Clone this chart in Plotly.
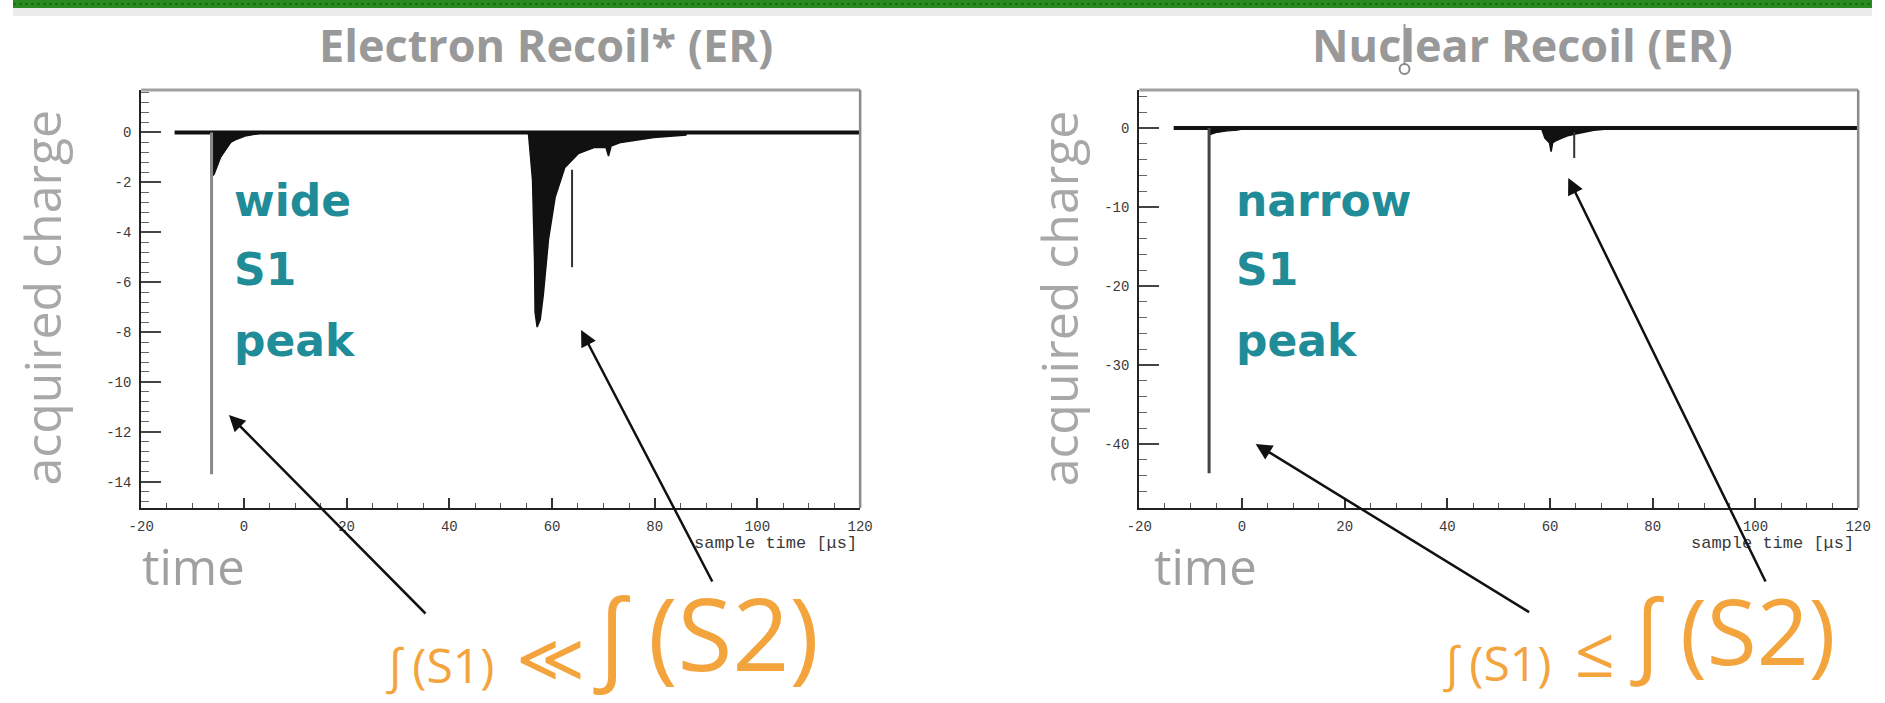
import plotly.graph_objects as go

W, H = 1885, 703

# ---------------- data ----------------
x_ticks = [-20, 0, 20, 40, 60, 80, 100, 120]
x_ticktext = ["-20", "0", "20", "40", "60", "80", "100", "120"]

er_y_ticks = [0, -2, -4, -6, -8, -10, -12, -14]
er_y_ticktext = ["0", "-2", "-4", "-6", "-8", "-10", "-12", "-14"]
nr_y_ticks = [0, -10, -20, -30, -40]
nr_y_ticktext = ["0", "-10", "-20", "-30", "-40"]

# Electron recoil waveform
er_base_t = [-13.5, 120]
er_base_q = [0, 0]
er_s1_t = [-6.3, -6.3]
er_s1_q = [0, -13.7]
er_s1tail_t = [-6.5, -6.4, -5.8, -5.4, -4.9, -4.5, -3.5, -2.5, -1.6, 0.3, 3.0]
er_s1tail_q = [0, -1.8, -1.7, -1.5, -1.2, -1.0, -0.7, -0.4, -0.3, -0.15, -0.05]
er_s2_t = [55.4, 56.2, 56.6, 56.7, 57.1, 57.7, 58.3, 59.3, 60.6, 62.5, 65.1, 68.3, 70.5, 71.0, 71.5, 73.4, 79.8, 86.2]
er_s2_q = [0, -1.9, -5.2, -7.2, -7.8, -7.5, -6.5, -4.3, -2.6, -1.4, -0.85, -0.6, -0.6, -0.95, -0.55, -0.4, -0.2, -0.1]
er_spike_t = [63.9, 63.9]
er_spike_q = [-1.5, -5.4]

# Nuclear recoil waveform
nr_base_t = [-13.3, 120]
nr_base_q = [0, 0]
nr_s1_t = [-6.4, -6.4]
nr_s1_q = [0, -43.7]
nr_s1tail_t = [-6.4, -5.0, -3.0, -1.0, 1.5]
nr_s1tail_q = [-0.9, -0.6, -0.4, -0.3, 0]
nr_s2_t = [58.3, 59.0, 59.9, 60.2, 60.5, 60.9, 62.2, 63.4, 65.4, 68.5, 71.7]
nr_s2_q = [0, -1.3, -1.9, -3.0, -1.9, -1.7, -1.3, -1.0, -0.7, -0.3, -0.1]
nr_spike_t = [64.7, 64.7]
nr_spike_q = [-0.5, -3.8]

er_y_range = [-15.05, 1.7]
nr_y_range = [-48.1, 4.8]
x_range = [-20, 120]


def px(x):
    return x / W


def py(y):
    return 1 - y / H


fig = go.Figure()

BLACK = "#111111"


def add_wave(xa, ya, base_t, base_q, s1_t, s1_q, s1_col, tail_t, tail_q, s2_t, s2_q, sp_t, sp_q):
    fig.add_trace(go.Scatter(x=tail_t, y=tail_q, xaxis=xa, yaxis=ya, mode="lines",
                             line=dict(color=BLACK, width=1), fill="tozeroy", fillcolor=BLACK))
    fig.add_trace(go.Scatter(x=s2_t, y=s2_q, xaxis=xa, yaxis=ya, mode="lines",
                             line=dict(color=BLACK, width=1.5), fill="tozeroy", fillcolor=BLACK))
    fig.add_trace(go.Scatter(x=sp_t, y=sp_q, xaxis=xa, yaxis=ya, mode="lines",
                             line=dict(color="#333333", width=2)))
    fig.add_trace(go.Scatter(x=base_t, y=base_q, xaxis=xa, yaxis=ya, mode="lines",
                             line=dict(color=BLACK, width=4)))
    fig.add_trace(go.Scatter(x=s1_t, y=s1_q, xaxis=xa, yaxis=ya, mode="lines",
                             line=dict(color=s1_col, width=3)))


add_wave("x", "y", er_base_t, er_base_q, er_s1_t, er_s1_q, "#8a8a8a",
         er_s1tail_t, er_s1tail_q, er_s2_t, er_s2_q, er_spike_t, er_spike_q)
add_wave("x2", "y2", nr_base_t, nr_base_q, nr_s1_t, nr_s1_q, "#444444",
         nr_s1tail_t, nr_s1tail_q, nr_s2_t, nr_s2_q, nr_spike_t, nr_spike_q)

tickfont = dict(family="Liberation Mono", size=14, color="#3a3a3a")

xdom1 = [px(130), px(859)]
xdom2 = [px(1142), px(1871)]
ydom = [py(508), py(90)]


def xaxis(dom, anchor):
    return dict(domain=dom, anchor=anchor, range=x_range, tickvals=x_ticks, ticktext=x_ticktext,
                ticks="inside", ticklen=10, tickwidth=1.5, tickcolor="#333",
                minor=dict(dtick=5, tick0=0, ticks="inside", ticklen=5, tickcolor="#555", tickwidth=1),
                showline=True, linecolor="#222", linewidth=2, showgrid=False, zeroline=False,
                tickfont=tickfont, ticklabelstandoff=4, fixedrange=True)


def yaxis(dom, anchor, rng, tv, tt, mdt):
    return dict(domain=dom, anchor=anchor, range=rng, tickvals=tv, ticktext=tt,
                ticks="inside", ticklen=20, tickwidth=1.5, tickcolor="#444",
                minor=dict(dtick=mdt, tick0=0, ticks="inside", ticklen=8, tickcolor="#666", tickwidth=1),
                showline=True, linecolor="#222", linewidth=2, showgrid=False, zeroline=False,
                tickfont=tickfont, ticklabelstandoff=5, fixedrange=True)


ann = []
GRAY_T = "#999999"
# titles
ann.append(dict(text="Electron Recoil* (ER)", x=px(540), y=py(44), xref="paper", yref="paper",
                showarrow=False, xanchor="center", yanchor="middle",
                font=dict(family="Open Sans", size=45, color=GRAY_T, weight="bold")))
ann.append(dict(text="Nuclear Recoil (ER)", x=px(1531), y=py(44), xref="paper", yref="paper",
                showarrow=False, xanchor="center", yanchor="middle",
                font=dict(family="Open Sans", size=45, color=GRAY_T, weight="bold")))
# y labels
for xc in (29, 1061):
    ann.append(dict(text="acquired charge", x=px(xc), y=py(298), xref="paper", yref="paper",
                    showarrow=False, textangle=-90, xanchor="center", yanchor="middle",
                    font=dict(family="Open Sans", size=50, color="#a8a8a8")))
# time labels
for xl in (129, 1155):
    ann.append(dict(text="time", x=px(xl), y=py(566), xref="paper", yref="paper",
                    showarrow=False, xanchor="left", yanchor="middle",
                    font=dict(family="Open Sans", size=49, color="#a0a0a0")))
# sample time
for xr in (858, 1869):
    ann.append(dict(text="sample time [\u03bcs]", x=px(xr), y=py(543), xref="paper", yref="paper",
                    showarrow=False, xanchor="right", yanchor="middle",
                    font=dict(family="Liberation Mono", size=17, color="#3a3a3a")))
# teal labels
TEAL = "#1f8c98"
for xl, words in ((222, ["wide", "S1", "peak"]), (1238, ["narrow", "S1", "peak"])):
    for yc, w in zip((200, 270, 340), words):
        ann.append(dict(text=w, x=px(xl), y=py(yc), xref="paper", yref="paper",
                        showarrow=False, xanchor="left", yanchor="middle",
                        font=dict(family="DejaVu Sans", size=44, color=TEAL, weight="bold")))
# orange formulas
ORANGE = "#f3a43c"
ann.append(dict(text="\u222b\u2009(S1)", x=px(376), y=py(664), xref="paper", yref="paper", showarrow=False,
                xanchor="left", yanchor="middle", font=dict(family="Open Sans", size=48, color=ORANGE)))
ann.append(dict(text="\u226a", x=px(545), y=py(658), xref="paper", yref="paper", showarrow=False,
                xanchor="center", yanchor="middle", font=dict(family="DejaVu Sans", size=66, color=ORANGE)))
ann.append(dict(text="\u222b\u2009(S2)", x=px(586), y=py(632), xref="paper", yref="paper", showarrow=False,
                xanchor="left", yanchor="middle", font=dict(family="Open Sans", size=100, color=ORANGE)))
ann.append(dict(text="\u222b\u2009(S1)", x=px(1448), y=py(662), xref="paper", yref="paper", showarrow=False,
                xanchor="left", yanchor="middle", font=dict(family="Open Sans", size=48, color=ORANGE)))
ann.append(dict(text="\u2264", x=px(1604), y=py(650), xref="paper", yref="paper", showarrow=False,
                xanchor="center", yanchor="middle", font=dict(family="Open Sans", size=70, color=ORANGE)))
ann.append(dict(text="\u222b\u2009(S2)", x=px(1638), y=py(630), xref="paper", yref="paper", showarrow=False,
                xanchor="left", yanchor="middle", font=dict(family="Open Sans", size=91, color=ORANGE)))
# arrows (head, tail in pixels)
for (hx, hy, tx, ty) in ((219, 415, 417, 615), (576, 330, 708, 583),
                         (1260, 444, 1535, 613), (1577, 178, 1775, 583)):
    ann.append(dict(text="", x=px(hx), y=py(hy), xref="paper", yref="paper",
                    showarrow=True, ax=tx - hx, ay=ty - hy, axref="pixel", ayref="pixel",
                    arrowhead=2, arrowsize=1.3, arrowwidth=2.5, arrowcolor="#111111"))

shapes = []
# top green band and shadow
shapes.append(dict(type="rect", xref="paper", yref="paper", x0=0, x1=1, y0=py(16), y1=py(8),
                   fillcolor="#ececec", line=dict(width=0), layer="below"))
shapes.append(dict(type="rect", xref="paper", yref="paper", x0=0, x1=1, y0=py(8), y1=1,
                   fillcolor="#2c8a22", line=dict(width=0)))
shapes.append(dict(type="line", xref="paper", yref="paper", x0=0, x1=1, y0=py(4), y1=py(4),
                   line=dict(color="#1d6a16", width=2, dash="dot")))
# grey top / right frame of each pad
for xd, yd in (("x domain", "y domain"), ("x2 domain", "y2 domain")):
    shapes.append(dict(type="line", xref=xd, yref=yd, x0=0, x1=1, y0=1, y1=1,
                       line=dict(color="#a0a0a0", width=3)))
    shapes.append(dict(type="line", xref=xd, yref=yd, x0=1, x1=1, y0=0, y1=1,
                       line=dict(color="#8a8a8a", width=2.5)))
# text-cursor artefact in the second title
shapes.append(dict(type="line", xref="paper", yref="paper", x0=px(1411), x1=px(1411), y0=py(24), y1=py(64),
                   line=dict(color="#9a9a9a", width=2)))
shapes.append(dict(type="circle", xref="paper", yref="paper", x0=px(1406), x1=px(1416), y0=py(74), y1=py(64),
                   line=dict(color="#8a8a8a", width=2), fillcolor="white"))

fig.update_layout(
    width=W, height=H, margin=dict(l=0, r=0, t=0, b=0),
    paper_bgcolor="white", plot_bgcolor="white", showlegend=False,
    xaxis=xaxis(xdom1, "y"),
    yaxis=yaxis(ydom, "x", er_y_range, er_y_ticks, er_y_ticktext, 0.4),
    xaxis2=xaxis(xdom2, "y2"),
    yaxis2=yaxis(ydom, "x2", nr_y_range, nr_y_ticks, nr_y_ticktext, 2),
    annotations=ann, shapes=shapes,
)

fig.write_html("out.html")
